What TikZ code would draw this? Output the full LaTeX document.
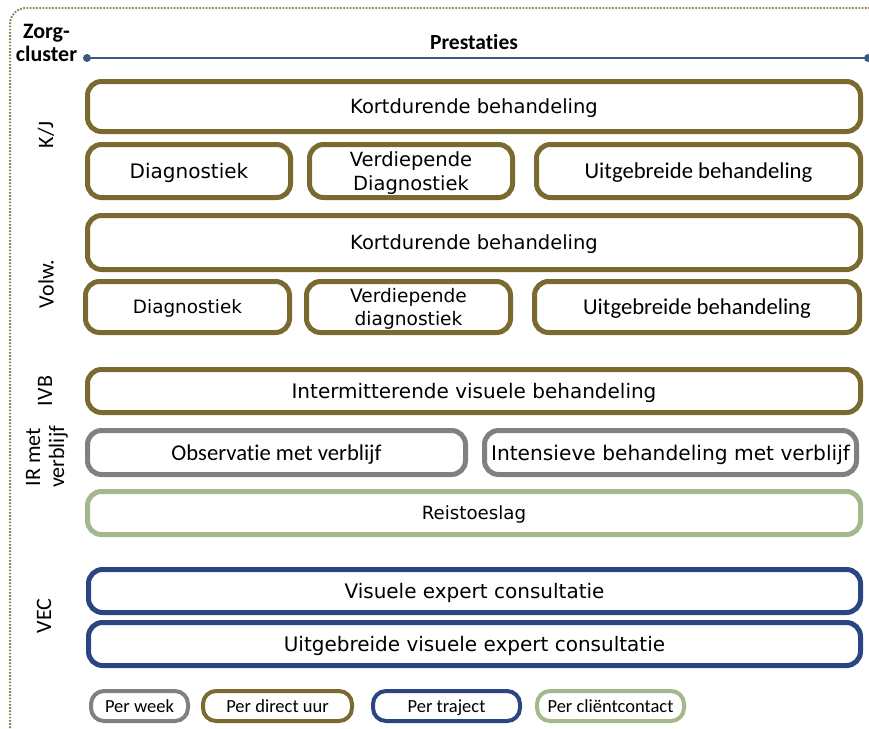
\documentclass[tikz,border=0pt]{standalone}
\usepackage{fontspec}
\setmainfont{Carlito}[Ligatures=NoCommon]
\newfontfamily\vfont{DejaVu Sans}
\definecolor{olive}{RGB}{122,106,48}
\definecolor{grey}{RGB}{128,128,128}
\definecolor{lgreen}{RGB}{163,184,140}
\definecolor{navy}{RGB}{43,69,131}
\definecolor{framec}{RGB}{140,125,80}
\definecolor{lineblue}{RGB}{60,90,125}
\newcommand\myfs[1]{\fontsize{#1}{#1}\selectfont}
\newcommand\mybox[7]{%
  \pgfmathsetmacro\bw{#4-#2-5}\pgfmathsetmacro\bh{#5-#3-5}%
  \node[box,#6,minimum width=\bw pt,minimum height=\bh pt] (#1) at ({(#2+#4)/2},{(#3+#5)/2}) {#7};}
\newcommand\mylegbox[7]{%
  \pgfmathsetmacro\bw{#4-#2-4}\pgfmathsetmacro\bh{#5-#3-4}%
  \node[legbox,#6,minimum width=\bw pt,minimum height=\bh pt] (#1) at ({(#2+#4)/2},{(#3+#5)/2}) {#7};}
\tikzset{
  box/.style={draw,line width=5pt,rounded corners=14pt,inner sep=0pt,align=center,text=black,text depth=0pt},
  legbox/.style={draw,line width=4pt,rounded corners=13pt,inner sep=0pt,align=center,text=black,font=\myfs{18.5},text depth=0pt},
  ol/.style={draw=olive},
  gr/.style={draw=grey},
  lgr/.style={draw=lgreen},
  nv/.style={draw=navy},
  side/.style={rotate=90,font=\myfs{22},align=center,inner sep=0pt},
}
\begin{document}
\begin{tikzpicture}[x=1pt,y=-1pt]
\useasboundingbox (0,0) rectangle (869,728);
\clip (0,0) rectangle (869,728);
\fill[white] (0,0) rectangle (869,728);
% frame
\draw[framec,line width=2pt,dash pattern=on 1.6pt off 1.6pt,rounded corners=16pt] (10,760) -- (10,8) -- (900,8);
% header
\node[font=\bfseries\fontsize{22}{23}\selectfont,align=center,inner sep=0pt] (zc) at (46.5,43) {Zorg-\\cluster};
\node[font=\bfseries\myfs{21.5},inner sep=0pt] (pr) at (474,42) {Prestaties};
\coordinate (l1) at (87,58);
\coordinate (l2) at (868,58);
\draw[lineblue,line width=1.5pt] (l1) -- (l2);
\fill[lineblue] (l1) circle (4);
\fill[lineblue] (l2) circle (4);
% side labels
\node[side] (kj) at (46,135) {K/J};
\node[side] (vw) at (46,284) {Volw.};
\node[side] (ivb) at (45,391) {IVB};
\node[side] (ir) at (47,457) {IR met\\[2pt]verblijf};
\node[side] (vec) at (44,616) {VEC};
% K/J
\mybox{kja}{85}{79}{863}{134}{ol,font=\vfont\myfs{19.5}}{Kortdurende behandeling}
\mybox{kjb}{85}{142}{293}{200}{ol,font=\vfont\myfs{20}}{Diagnostiek}
\mybox{kjc}{307}{142}{515}{200}{ol,font=\vfont\myfs{19.5}}{Verdiepende\\[4pt]Diagnostiek}
\mybox{kjd}{534}{142}{863}{200}{ol,font=\myfs{22.7}}{Uitgebreide behandeling}
% Volw.
\mybox{vwa}{85}{213}{863}{272}{ol,font=\vfont\myfs{19.5}}{Kortdurende behandeling}
\mybox{vwb}{83}{279}{292}{335}{ol,font=\vfont\myfs{18.4}}{Diagnostiek}
\mybox{vwc}{304}{279}{513}{335}{ol,font=\vfont\myfs{18.6}}{Verdiepende\\[5pt]diagnostiek}
\mybox{vwd}{532}{279}{862}{335}{ol,font=\myfs{22.7}}{Uitgebreide behandeling}
% IVB
\mybox{iv}{85}{367}{863}{415}{ol,font=\vfont\myfs{20}}{Intermitterende visuele behandeling}
% IR
\mybox{ob}{85}{428}{468}{477}{gr,font=\myfs{22.6}}{Observatie met verblijf}
\mybox{in}{482}{428}{859}{477}{gr,font=\vfont\myfs{20.2}}{Intensieve behandeling met verblijf}
\mybox{re}{85}{489}{863}{537}{lgr,font=\vfont\myfs{18.2}}{Reistoeslag}
% VEC
\mybox{va}{86}{567}{863}{615}{nv,font=\vfont\myfs{20}}{Visuele expert consultatie}
\mybox{vb}{86}{620}{863}{668}{nv,font=\vfont\myfs{20}}{Uitgebreide visuele expert consultatie}
% legend
\mylegbox{la}{89}{689}{190}{723}{gr}{Per week}
\mylegbox{lb}{201}{689}{354}{723}{ol}{Per direct uur}
\mylegbox{lc}{371}{689}{522}{723}{nv}{Per traject}
\mylegbox{ld}{535}{689}{686}{723}{lgr}{Per cliëntcontact}
\end{tikzpicture}
\end{document}
